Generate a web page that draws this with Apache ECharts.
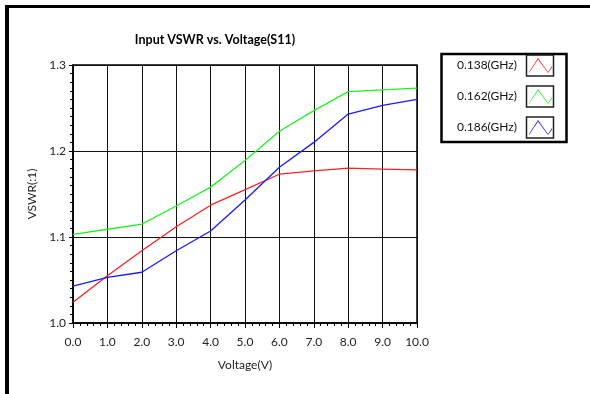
<!DOCTYPE html>
<html>
<head>
<meta charset="utf-8">
<script src="https://cdn.jsdelivr.net/npm/echarts@6/dist/echarts.min.js"></script>
<style>
html,body{margin:0;padding:0;background:#fff;}
#chart{width:590px;height:394px;}
</style>
</head>
<body>
<div id="chart"></div>
<script>
var voltage = [0, 1, 2, 3, 4, 5, 6, 7, 8, 9, 10];
var seriesNames = ['0.138(GHz)', '0.162(GHz)', '0.186(GHz)'];
var vswr138 = [1.024, 1.055, 1.084, 1.112, 1.137, 1.155, 1.173, 1.177, 1.180, 1.179, 1.178];
var vswr162 = [1.103, 1.109, 1.115, 1.136, 1.158, 1.189, 1.223, 1.247, 1.269, 1.271, 1.273];
var vswr186 = [1.043, 1.053, 1.059, 1.084, 1.107, 1.143, 1.181, 1.210, 1.243, 1.253, 1.260];
var seriesColors = ['#ff2020', '#22f022', '#1a1aff'];
var chartTitle = 'Input VSWR vs. Voltage(S11)';
var xName = 'Voltage(V)';
var yName = 'VSWR(:1)';

function pairs(ys) { return voltage.map(function (x, i) { return [x, ys[i]]; }); }
var allValues = [vswr138, vswr162, vswr186];

var zig = 'path://M0,14 L9,0 L19,14 L23,8 L23,9.6 L19,15 L9,1.6 L0,15 Z';
var font = 'Lato, "Open Sans", sans-serif';

var chart = echarts.init(document.getElementById('chart'), null, {renderer: 'canvas'});
var option = {
  backgroundColor: '#fff',
  animation: false,
  title: {
    text: chartTitle,
    left: 210, top: 28, textAlign: 'center',
    textStyle: {fontFamily: font, fontWeight: 'bold', fontSize: 12.5, color: '#000'}
  },
  legend: {
    orient: 'vertical', right: 38, top: 58, padding: 0,
    align: 'right', itemWidth: 23, itemHeight: 15, itemGap: 16,
    icon: zig,
    itemStyle: {borderWidth: 0},
    textStyle: {fontFamily: font, fontSize: 12, color: '#111', padding: [0, 7, 0, 0]},
    data: seriesNames
  },
  grid: {left: 73, right: 173, top: 65, bottom: 71, show: true, borderColor: '#000', borderWidth: 1.5, backgroundColor: '#fff'},
  xAxis: {
    type: 'value', min: 0, max: 10, interval: 1,
    name: xName, nameLocation: 'middle', nameGap: 36,
    nameTextStyle: {fontFamily: font, fontSize: 12, color: '#222'},
    axisLine: {show: true, lineStyle: {color: '#000', width: 1.5}},
    axisTick: {show: true, length: 5, lineStyle: {color: '#000'}},
    minorTick: {show: true, splitNumber: 5, length: 3, lineStyle: {color: '#000'}},
    axisLabel: {margin: 13, fontFamily: font, fontSize: 12, color: '#222', formatter: function (v) { return v.toFixed(1); }},
    splitLine: {show: true, lineStyle: {color: '#111', width: 1}}
  },
  yAxis: {
    type: 'value', min: 1.0, max: 1.3, interval: 0.1,
    name: yName, nameLocation: 'middle', nameGap: 27,
    nameTextStyle: {fontFamily: font, fontSize: 12, color: '#222'},
    axisLine: {show: true, lineStyle: {color: '#000', width: 1.5}},
    axisTick: {show: true, length: 4, lineStyle: {color: '#000'}},
    minorTick: {show: true, splitNumber: 10, length: 3, lineStyle: {color: '#000'}},
    axisLabel: {margin: 7, fontFamily: font, fontSize: 12, color: '#222', formatter: function (v) { return v.toFixed(1); }},
    splitLine: {show: true, lineStyle: {color: '#111', width: 1}}
  },
  series: seriesNames.map(function (n, i) {
    return {
      name: n, type: 'line', data: pairs(allValues[i]),
      showSymbol: false, symbol: 'none',
      lineStyle: {color: seriesColors[i], width: 1.3},
      itemStyle: {color: seriesColors[i]}
    };
  }),
  graphic: [
    {type: 'line', shape: {x1: 5, y1: 6.5, x2: 590, y2: 6.5}, style: {stroke: '#000', lineWidth: 3}},
    {type: 'line', shape: {x1: 7, y1: 5, x2: 7, y2: 394}, style: {stroke: '#000', lineWidth: 4}},
    {type: 'rect', shape: {x: 441.5, y: 54, width: 125, height: 88}, style: {fill: 'none', stroke: '#000', lineWidth: 2.5}},
    {type: 'rect', shape: {x: 526.5, y: 55, width: 27, height: 21}, style: {fill: 'none', stroke: '#222', lineWidth: 1.5}},
    {type: 'rect', shape: {x: 526.5, y: 86, width: 27, height: 21}, style: {fill: 'none', stroke: '#222', lineWidth: 1.5}},
    {type: 'rect', shape: {x: 526.5, y: 117, width: 27, height: 21}, style: {fill: 'none', stroke: '#222', lineWidth: 1.5}}
  ]
};
chart.setOption(option);
</script>
</body>
</html>
